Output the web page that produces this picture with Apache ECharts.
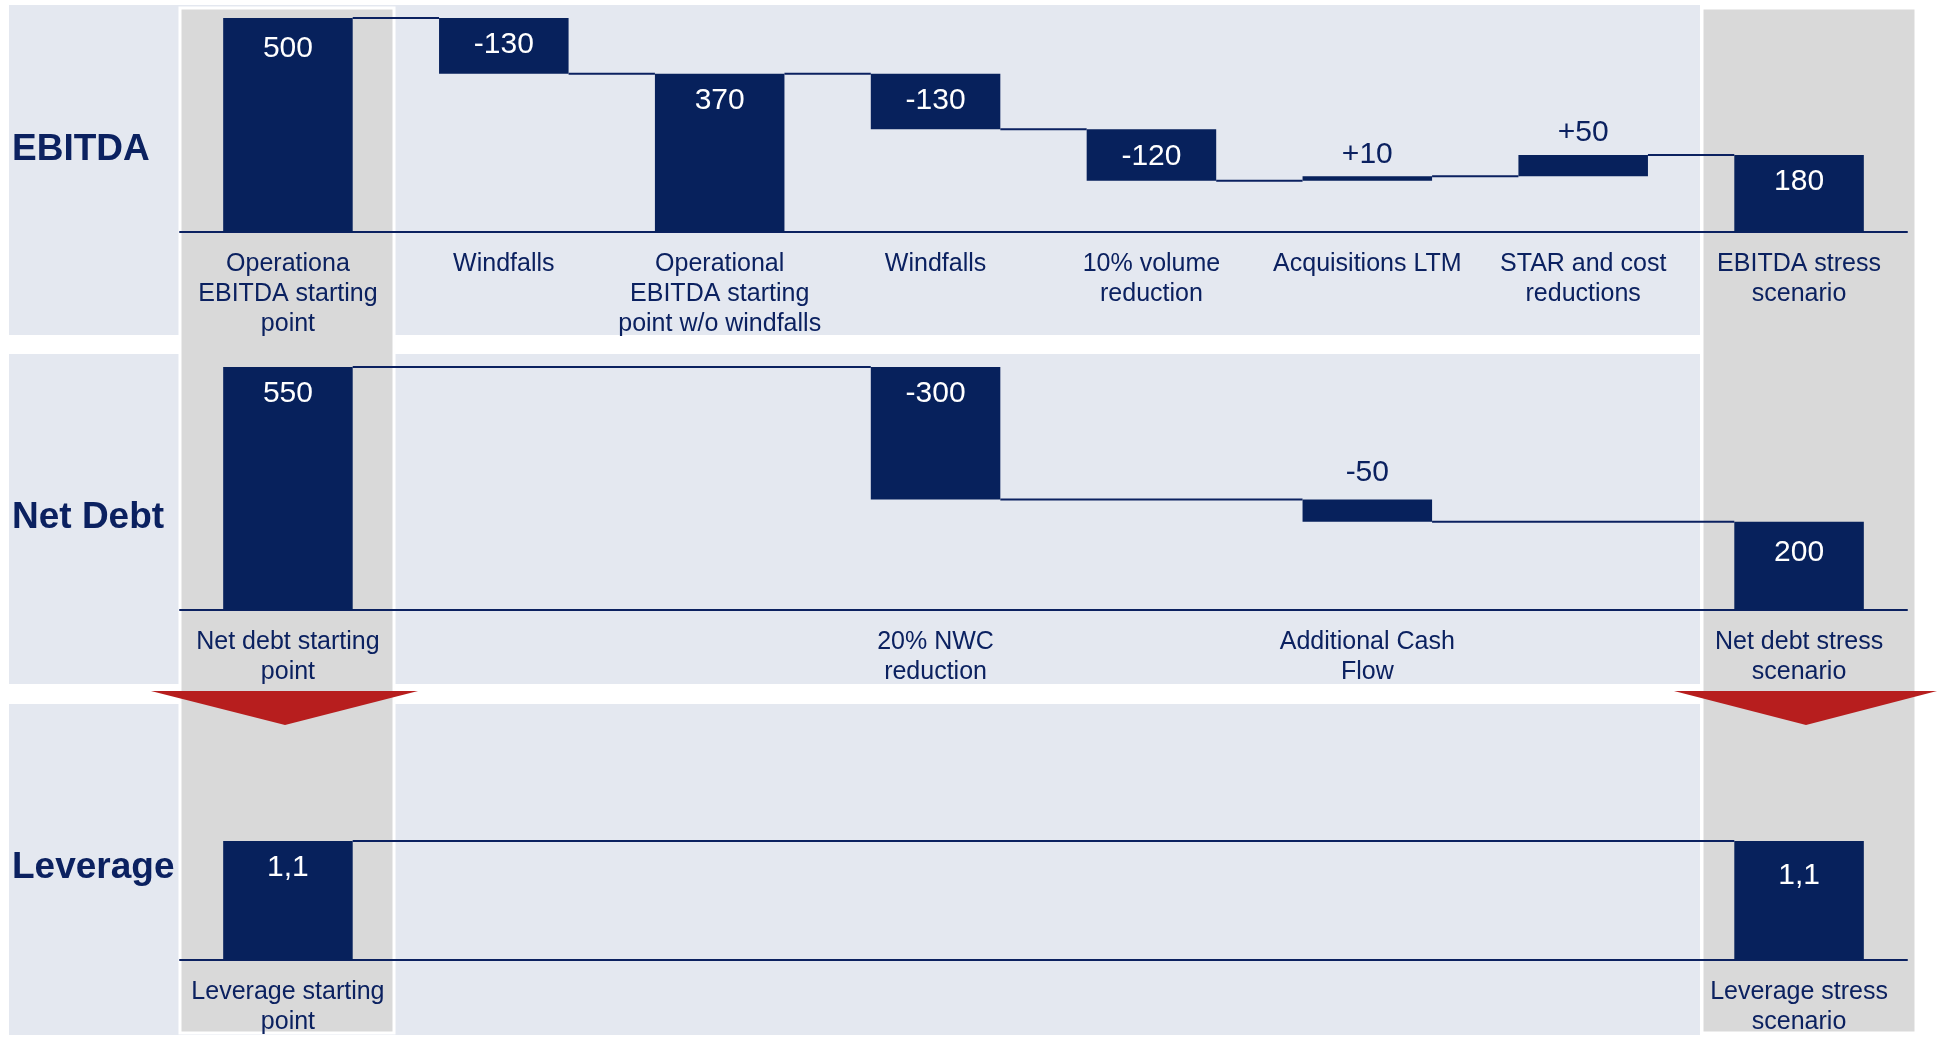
<!DOCTYPE html>
<html>
<head>
	<meta charset="utf-8"/>
	<title>EBITDA / Net Debt / Leverage stress</title>
	<style>
		html, body { margin: 0; padding: 0; background: #fff; }
		#chart { width: 1937px; height: 1037px; }
	</style>
</head>
<body>
	<div id="chart"></div>

	<script src="https://cdn.jsdelivr.net/npm/echarts@6/dist/echarts.min.js"></script>
	<script>
		// --- data ---
		var ebitdaCategories = ['Operationa\nEBITDA starting\npoint', 'Windfalls', 'Operational\nEBITDA starting\npoint w/o windfalls', 'Windfalls', '10% volume\nreduction', 'Acquisitions LTM', 'STAR and cost\nreductions', 'EBITDA stress\nscenario'];
		var ebitdaValues = [500, -130, 370, -130, -120, 10, 50, 180];
		var ebitdaKinds = ['total', 'delta', 'total', 'delta', 'delta', 'delta', 'delta', 'total'];

		var debtCategories = ['Net debt starting\npoint', '', '', '20% NWC\nreduction', '', 'Additional Cash\nFlow', '', 'Net debt stress\nscenario'];
		var debtValues = [550, null, null, -300, null, -50, null, 200];
		var debtKinds = ['total', null, null, 'delta', null, 'delta', null, 'total'];

		var leverageCategories = ['Leverage starting\npoint', '', '', '', '', '', '', 'Leverage stress\nscenario'];
		var leverageValues = [1.1, null, null, null, null, null, null, 1.1];
		var leverageKinds = ['total', null, null, null, null, null, null, 'total'];

		var NAVY = '#07215C';
		var TEXT = '#0B2160';
		var FONT = 'Liberation Sans, Arial, sans-serif';

		// turn a list of totals / deltas into helper + visible bars and connector lines
		function waterfall(values, kinds, yMax) {
			var base = [], bar = [], links = [];
			var level = 0, prev = null;
			for (var i = 0; i < values.length; i++) {
				var v = values[i];
				if (v === null) { base.push('-'); bar.push('-'); continue; }
				var txt = String(v).replace('.', ',');
				if (kinds[i] === 'total') {
					base.push(0);
					level = v;
				} else {
					var end = level + v;
					base.push(Math.min(level, end));
					level = end;
					if (v > 0) txt = '+' + txt;
				}
				var outside = kinds[i] === 'delta' && Math.abs(v) / yMax < 0.15;
				bar.push({
					value: Math.abs(v),
					label: {
						formatter: txt,
						position: outside ? 'top' : 'insideTop',
						distance: outside ? 7 : 12,
						color: outside ? TEXT : '#fff'
					}
				});
				if (prev !== null) links.push([prev.i, prev.level, i]);
				prev = { i: i, level: level };
			}
			return { base: base, bar: bar, links: links };
		}

		var grids = [
			{ left: 180, right: 30, top: 18, height: 214 },
			{ left: 180, right: 30, top: 367, height: 243 },
			{ left: 180, right: 30, top: 841, height: 122 }
		];
		var rows = [
			{ cats: ebitdaCategories, data: waterfall(ebitdaValues, ebitdaKinds, 500), max: 500 },
			{ cats: debtCategories, data: waterfall(debtValues, debtKinds, 550), max: 550 },
			{ cats: leverageCategories, data: waterfall(leverageValues, leverageKinds, 1.1), max: 1.1 }
		];
		// a few labels sit a bit off in the original
		rows[0].data.bar[0].label.distance = 16;
		rows[1].data.bar[5].label.distance = 12;
		rows[1].data.bar[7].label.distance = 16;
		rows[2].data.bar[7].label.distance = 20;

		var xAxes = [], yAxes = [], series = [];
		rows.forEach(function (row, k) {
			xAxes.push({
				type: 'category',
				gridIndex: k,
				data: row.cats,
				axisLine: { lineStyle: { color: TEXT, width: 2 } },
				axisTick: { show: false },
				axisLabel: {
					interval: 0,
					margin: 17,
					color: TEXT,
					fontFamily: FONT,
					fontSize: 25,
					lineHeight: 30
				}
			});
			yAxes.push({ type: 'value', gridIndex: k, min: 0, max: row.max, show: false, splitLine: { show: false } });
			series.push({
				type: 'bar',
				xAxisIndex: k, yAxisIndex: k,
				stack: 's' + k,
				barWidth: '60%',
				itemStyle: { color: 'transparent' },
				data: row.data.base,
				silent: true
			});
			series.push({
				type: 'bar',
				xAxisIndex: k, yAxisIndex: k,
				stack: 's' + k,
				barWidth: '60%',
				itemStyle: { color: NAVY },
				label: { show: true, fontFamily: FONT, fontSize: 30 },
				data: row.data.bar
			});
			// thin connector lines between bars
			series.push({
				type: 'custom',
				xAxisIndex: k, yAxisIndex: k,
				encode: { x: 0, y: 1 },
				data: row.data.links,
				renderItem: function (params, api) {
					var p1 = api.coord([api.value(0), api.value(1)]);
					var p2 = api.coord([api.value(2), api.value(1)]);
					var half = api.size([1, 0])[0] * 0.3;
					return {
						type: 'line',
						shape: { x1: p1[0] + half, y1: p1[1], x2: p2[0] - half, y2: p1[1] },
						style: { stroke: TEXT, lineWidth: 2 }
					};
				},
				z: 3
			});
		});

		function panel(y, h) {
			return { type: 'rect', z: -10, shape: { x: 9, y: y, width: 1691, height: h }, style: { fill: '#E4E8F0' } };
		}
		function column(x) {
			return { type: 'rect', z: -9, shape: { x: x, y: 8, width: 214, height: 1025 }, style: { fill: '#D9D9D9', stroke: '#fff', lineWidth: 3 } };
		}
		function title(y, t) {
			return { type: 'text', z: 10, x: 12, y: y, style: { text: t, font: 'bold 37px ' + FONT, fill: TEXT, verticalAlign: 'middle' } };
		}

		var option = {
			animation: false,
			backgroundColor: '#fff',
			grid: grids,
			xAxis: xAxes,
			yAxis: yAxes,
			series: series,
			graphic: [
				panel(5, 330),
				panel(354, 330),
				panel(704, 331),
				column(180),
				column(1702),
				{ type: 'polygon', z: 50, shape: { points: [[151, 691], [418, 691], [285, 725]] }, style: { fill: '#B71E1E' } },
				{ type: 'polygon', z: 50, shape: { points: [[1674, 691], [1937, 691], [1806, 725]] }, style: { fill: '#B71E1E' } },
				title(150, 'EBITDA'),
				title(518, 'Net Debt'),
				title(868, 'Leverage')
			]
		};

		var myChart = echarts.init(document.getElementById('chart'));
		myChart.setOption(option);
	</script>
</body>
</html>
